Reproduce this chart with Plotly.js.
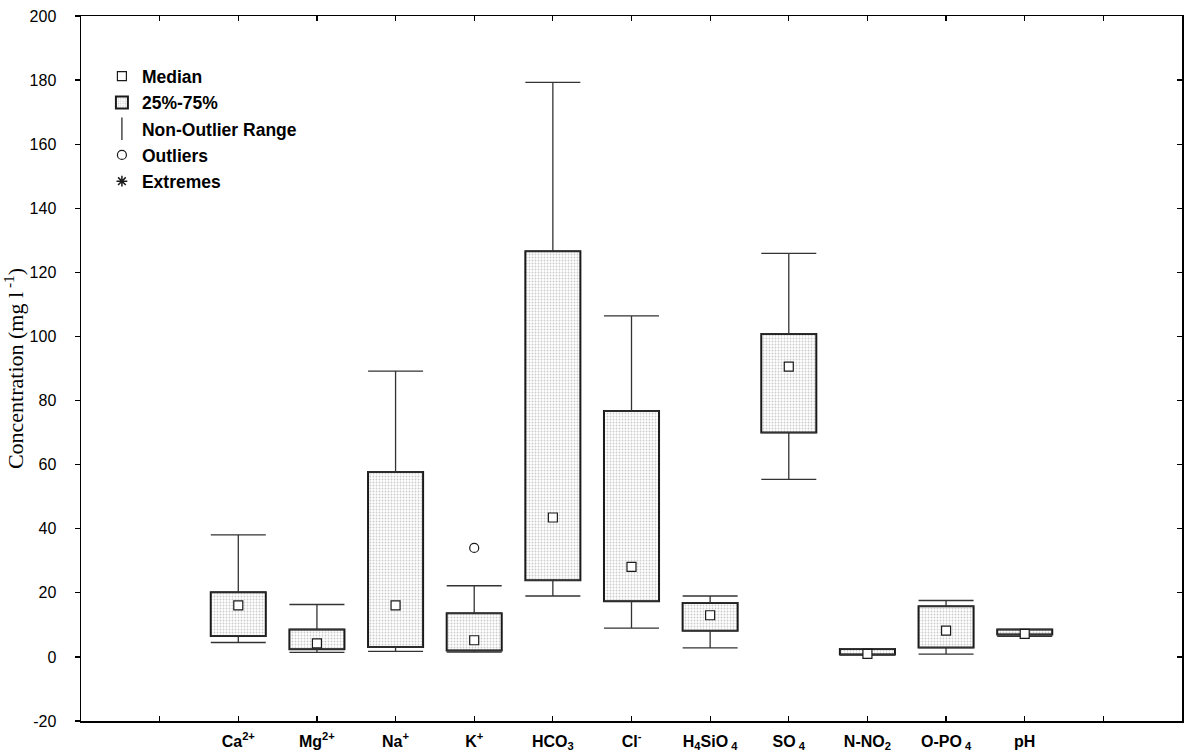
<!DOCTYPE html>
<html>
<head>
<meta charset="utf-8">
<script src="https://cdn.plot.ly/plotly-3.0.1.min.js"></script>
<style>html,body{margin:0;padding:0;background:#fff}#chart{width:1189px;height:753px}</style>
</head>
<body>
<div id="chart"></div>
<script>
// ---- data (mg l-1) ----
const categories = ['Ca<sup>2+</sup>', 'Mg<sup>2+</sup>', 'Na<sup>+</sup>', 'K<sup>+</sup>', 'HCO<sub>3</sub>', 'Cl<sup>-</sup>',
  'H<sub>4</sub>SiO<sub> 4</sub>', 'SO<sub> 4</sub>', 'N-NO<sub>2</sub>', 'O-PO<sub> 4</sub>', 'pH'];
const lowerWhisker = [4.5, 1.4, 1.7, 1.5, 19.0, 9.0, 2.8, 55.4, 0.6, 0.85, 6.45];
const q1 = [6.55, 2.4, 3.1, 2.0, 23.9, 17.4, 8.2, 70.0, 0.75, 2.9, 7.0];
const median = [16.1, 4.2, 16.1, 5.2, 43.5, 28.1, 13.0, 90.6, 0.95, 8.2, 7.2];
const q3 = [20.2, 8.55, 57.7, 13.6, 126.6, 76.7, 16.85, 100.8, 2.5, 15.8, 8.55];
const upperWhisker = [38.1, 16.35, 89.2, 22.2, 179.3, 106.4, 19.0, 125.9, 2.6, 17.6, 8.6];
const outlierCategory = [3];
const outlierValue = [34.0];
const yTickVals = [-20, 0, 20, 40, 60, 80, 100, 120, 140, 160, 180, 200];
const yTickText = ['-20', '0', '20', '40', '60', '80', '100', '120', '140', '160', '180', '200'];
const legendLabels = ['Median', '25%-75%', 'Non-Outlier Range', 'Outliers', 'Extremes'];

// ---- derived ----
const xs = categories.map((c, i) => i);
const boxHeight = q3.map((v, i) => v - q1[i]);
const upperLen = upperWhisker.map((v, i) => v - q3[i]);
const lowerLen = q1.map((v, i) => v - lowerWhisker[i]);
const zeros = xs.map(() => 0);
const tickVals = [-1].concat(xs, [categories.length]);
const tickText = [''].concat(categories, ['']);

const lineCol = '#1a1a1a';
const whiskCol = '#333333';
const sans = 'Liberation Sans, Arial, sans-serif';

const traces = [
  {
    type: 'scatter', mode: 'markers', x: xs, y: q3, showlegend: false, hoverinfo: 'skip',
    marker: {size: 1, color: 'rgba(0,0,0,0)'},
    error_y: {type: 'data', symmetric: false, array: upperLen, arrayminus: zeros, width: 27.5, thickness: 1.3, color: whiskCol}
  },
  {
    type: 'scatter', mode: 'markers', x: xs, y: q1, showlegend: false, hoverinfo: 'skip',
    marker: {size: 1, color: 'rgba(0,0,0,0)'},
    error_y: {type: 'data', symmetric: false, array: zeros, arrayminus: lowerLen, width: 27.5, thickness: 1.3, color: whiskCol}
  },
  {
    type: 'bar', x: xs, y: boxHeight, base: q1, width: 0.7, name: legendLabels[1],
    legendgroup: 'g2', legendrank: 2,
    marker: {color: '#ffffff', line: {color: lineCol, width: 2},
      pattern: {shape: '.', size: 3, solidity: 0.3, fgcolor: '#cccccc', bgcolor: '#ffffff'}}
  },
  {
    type: 'scatter', mode: 'markers', x: xs, y: median, name: legendLabels[0],
    legendgroup: 'g1', legendrank: 1,
    marker: {symbol: 'square', size: 9, color: '#ffffff', line: {color: lineCol, width: 1.2}}
  },
  {
    type: 'scatter', mode: 'markers', x: outlierCategory, y: outlierValue, name: legendLabels[3],
    legendgroup: 'g4', legendrank: 4,
    marker: {symbol: 'circle-open', size: 9, color: lineCol, line: {width: 1.2}}
  },
  {
    type: 'scatter', mode: 'markers', x: [null], y: [null], name: legendLabels[2],
    legendgroup: 'g3', legendrank: 3, yaxis: 'y2',
    marker: {symbol: 'line-ns-open', size: 22, color: lineCol, line: {width: 1.2, color: lineCol}}
  },
  {
    type: 'scatter', mode: 'markers', x: [null], y: [null], name: legendLabels[4],
    legendgroup: 'g5', legendrank: 5, yaxis: 'y2',
    marker: {symbol: 'asterisk-open', size: 9, color: lineCol, line: {width: 1.5, color: lineCol}}
  }
];

const layout = {
  width: 1189, height: 753,
  margin: {l: 81, r: 7, t: 16, b: 32},
  paper_bgcolor: '#ffffff', plot_bgcolor: '#ffffff',
  barmode: 'overlay',
  showlegend: true,
  legend: {
    x: 0.019, y: 0.94, xanchor: 'left', yanchor: 'top',
    bgcolor: 'rgba(0,0,0,0)', tracegroupgap: 0.5, traceorder: 'grouped',
    font: {family: sans, size: 17.5, color: '#000', weight: 'bold'}
  },
  xaxis: {
    range: [-2, 12], tickvals: tickVals, ticktext: tickText,
    ticks: 'inside', ticklen: 5, tickwidth: 1.2, tickcolor: '#000',
    showline: true, linecolor: '#000', linewidth: 1.5, mirror: 'ticks',
    showgrid: false, zeroline: false, ticklabelstandoff: 5,
    tickfont: {family: sans, size: 16, color: '#000', weight: 'bold'}
  },
  yaxis: {
    range: [-20, 200], tickvals: yTickVals, ticktext: yTickText,
    ticks: 'outside', ticklen: 5, tickwidth: 1.2, tickcolor: '#000',
    showline: true, linecolor: '#000', linewidth: 1.5, mirror: true,
    showgrid: false, zeroline: false, ticklabelstandoff: 15,
    tickfont: {family: sans, size: 16, color: '#000'},
    title: {text: 'Concentration (mg l<sup> -1</sup>)', standoff: 0,
      font: {family: 'Liberation Serif, Times New Roman, serif', size: 22, color: '#000'}}
  },
  yaxis2: {
    overlaying: 'y', side: 'right', anchor: 'x', range: [-20, 200],
    tickvals: yTickVals,
    ticks: 'inside', ticklen: 5, tickwidth: 1.2, tickcolor: '#000',
    showticklabels: false, showline: false, showgrid: false, zeroline: false
  }
};

Plotly.newPlot('chart', traces, layout, {displayModeBar: false, staticPlot: true});
</script>
</body>
</html>
